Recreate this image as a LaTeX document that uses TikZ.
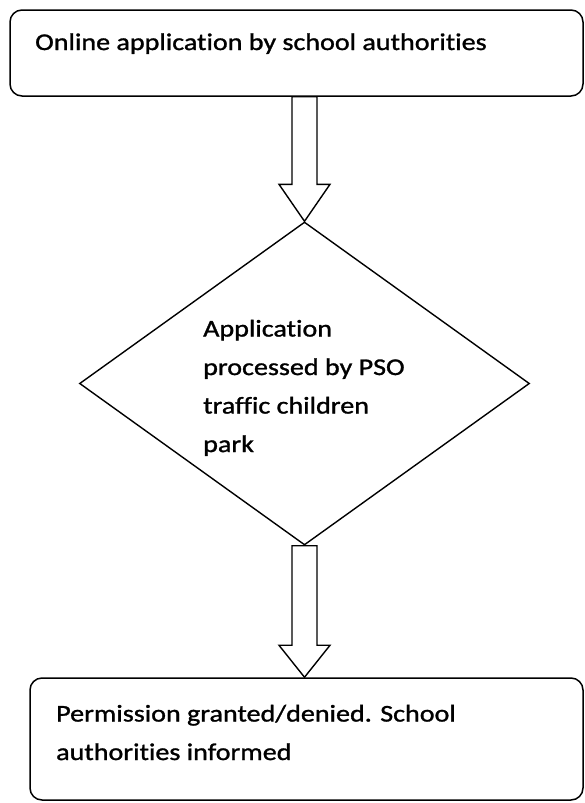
\documentclass[tikz,border=0pt]{standalone}
\usepackage{fontspec}
\setmainfont{Carlito}[FakeStretch=1.17, FakeBold=1.2, RawFeature={-liga}]
\usetikzlibrary{shapes.geometric,calc}
\begin{document}
\begin{tikzpicture}[x=1pt,y=-1pt,
  stepbox/.style={draw, rounded corners=12pt, line width=1.5pt, inner sep=0pt},
  decision/.style={draw, diamond, line width=1.4pt, inner sep=0pt},
  flowarrow/.style={draw, line width=1.4pt, line join=miter},
  txt/.style={anchor=base west, inner sep=0pt, align=left,
    font=\fontsize{24}{38.5}\selectfont, text=black}]
\useasboundingbox (0,0) rectangle (585,803);

% boxes of the flow
\node[stepbox, minimum width=573pt, minimum height=86pt] (apply) at (296.5,53) {};
\node[decision, minimum width=450pt, minimum height=323pt] (proc) at (304.5,383.5) {};
\node[stepbox, minimum width=553pt, minimum height=122pt] (result) at (306.5,739) {};

% texts (anchored on the baseline of their last line)
\node[txt] (applytext) at (35,50) {Online application by school authorities};
\node[txt] (proctext) at (203,452) {Application\\processed by PSO\\traffic children\\park};
\node[txt] (resulttext) at (56,760) {Permission granted/denied. School\\authorities informed};

% hollow block arrows
\coordinate (a1top) at (apply.south -| proc.north);
\draw[flowarrow] ($(a1top)+(-12.5,0)$) -- ($(proc.north)+(-12.5,-37)$)
  -- ($(proc.north)+(-25.5,-37)$) -- (proc.north)
  -- ($(proc.north)+(25.5,-37)$) -- ($(proc.north)+(12.5,-37)$)
  -- ($(a1top)+(12.5,0)$) -- cycle;

\coordinate (a2tip) at (result.north -| proc.south);
\draw[flowarrow] ($(proc.south)+(-12.5,0)$) -- ($(a2tip)+(-12.5,-32)$)
  -- ($(a2tip)+(-25.5,-32)$) -- (a2tip)
  -- ($(a2tip)+(25.5,-32)$) -- ($(a2tip)+(12.5,-32)$)
  -- ($(proc.south)+(12.5,0)$) -- cycle;
\end{tikzpicture}
\end{document}
